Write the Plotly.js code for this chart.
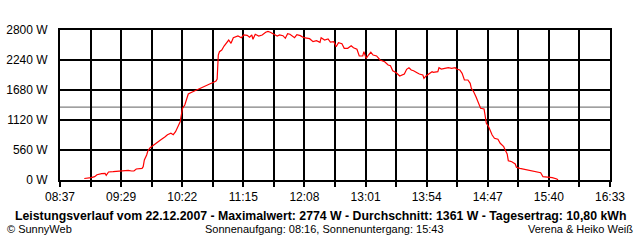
<!DOCTYPE html>
<html>
<head>
<meta charset="utf-8">
<script src="https://cdn.plot.ly/plotly-3.0.1.min.js"></script>
<style>html,body{margin:0;padding:0;background:#fff;}#chart{width:640px;height:240px;}</style>
</head>
<body>
<div id="chart"></div>
<script>
const day = '2007-12-22';
const times = ['08:58','09:03','09:04','09:07','09:09','09:13','09:16','09:17','09:19','09:23','09:29','09:33','09:36','09:39','09:41','09:43','09:48','09:49','09:50','09:52','09:53','09:55','09:58','10:01','10:04','10:08','10:10','10:13','10:15','10:17','10:20','10:21','10:22','10:23','10:25','10:27','10:28','10:31','10:34','10:37','10:41','10:44','10:47','10:50','10:52','10:53','10:54','10:55','10:57','10:59','11:01','11:03','11:05','11:07','11:11','11:14','11:16','11:19','11:21','11:23','11:24','11:26','11:29','11:32','11:35','11:37','11:39','11:42','11:45','11:47','11:50','11:52','11:54','11:56','11:58','12:00','12:02','12:05','12:08','12:11','12:13','12:16','12:19','12:22','12:23','12:26','12:29','12:31','12:34','12:36','12:38','12:41','12:43','12:46','12:49','12:51','12:54','12:56','12:59','13:00','13:02','13:04','13:06','13:08','13:11','13:14','13:16','13:18','13:21','13:23','13:25','13:28','13:31','13:33','13:35','13:37','13:39','13:41','13:43','13:46','13:48','13:51','13:52','13:54','13:57','13:59','14:00','14:04','14:05','14:07','14:10','14:13','14:16','14:19','14:20','14:23','14:25','14:26','14:27','14:30','14:32','14:33','14:35','14:37','14:39','14:41','14:44','14:45','14:46','14:48','14:51','14:53','14:56','14:58','15:01','15:02','15:04','15:05','15:08','15:11','15:12','15:15','15:19','15:22','15:27','15:31','15:33','15:35','15:40','15:43','15:47','15:48'];
const watts = [28,37,43,62,99,118,125,88,149,155,162,168,181,168,168,205,218,248,373,467,541,603,653,709,747,808,846,872,846,902,1027,1088,1213,1338,1400,1525,1605,1637,1667,1712,1742,1773,1798,1824,1848,1885,2333,2395,2427,2501,2563,2613,2552,2656,2688,2656,2707,2701,2664,2707,2626,2720,2688,2707,2757,2774,2757,2720,2688,2707,2694,2645,2731,2720,2688,2656,2712,2694,2656,2645,2638,2582,2600,2570,2656,2613,2632,2576,2582,2488,2563,2544,2458,2458,2507,2470,2440,2315,2315,2395,2272,2333,2384,2333,2315,2240,2221,2208,2147,2134,2040,2003,1941,1960,1979,2066,2096,2053,2040,2003,1979,1960,1898,1947,1992,2022,2010,2022,2096,2072,2085,2096,2085,2096,2072,2053,1992,1928,1867,1867,1805,1712,1648,1555,1462,1338,1325,1182,1058,995,840,778,760,685,622,573,485,360,342,299,237,218,200,187,155,149,136,62,50,43,19,0];
const average = 1361;
const axisStart = '08:37';
const axisEnd = '16:33';
const yMax = 2800;
const yStep = 560;
const titleLine = 'Leistungsverlauf vom 22.12.2007 - Maximalwert: 2774 W - Durchschnitt: 1361 W - Tagesertrag: 10,80 kWh';
const footLeft = '© SunnyWeb';
const footMid = 'Sonnenaufgang: 08:16, Sonnenuntergang: 15:43';
const footRight = 'Verena & Heiko Weiß';

const x = times.map(t => day + ' ' + t);
const t0 = new Date(day + 'T' + axisStart + ':00Z').getTime();
const t1 = new Date(day + 'T' + axisEnd + ':00Z').getTime();
const major = (t1 - t0) / 9;

const M = {l: 60, r: 30, t: 30, b: 60};
const plotH = 240 - M.t - M.b;
const py = p => (240 - M.b - p) / plotH;
const font = 'Liberation Sans, Arial, sans-serif';

const trace = {x: x, y: watts, type: 'scatter', mode: 'lines',
  line: {color: '#ff0000', width: 1.2}, hoverinfo: 'skip'};

const layout = {
  width: 640, height: 240, margin: M,
  paper_bgcolor: '#fff', plot_bgcolor: '#fff',
  showlegend: false,
  font: {family: font, size: 11, color: '#000'},
  xaxis: {type: 'date', range: [day + ' ' + axisStart, day + ' ' + axisEnd],
    tick0: day + ' ' + axisStart, dtick: major, tickformat: '%H:%M',
    showgrid: true, gridcolor: '#000', gridwidth: 2,
    ticks: 'outside', ticklen: 5, tickwidth: 2, tickcolor: '#000',
    showline: true, linecolor: '#000', linewidth: 2, mirror: true,
    zeroline: false, tickfont: {size: 12},
    minor: {tick0: day + ' ' + axisStart, dtick: major / 2, showgrid: true, gridcolor: '#000', gridwidth: 2,
      ticks: 'outside', ticklen: 5, tickwidth: 2, tickcolor: '#000'}},
  yaxis: {range: [0, yMax], dtick: yStep, tick0: 0, ticksuffix: ' W',
    showgrid: true, gridcolor: '#000', gridwidth: 2,
    ticks: 'outside', ticklen: 8, tickcolor: '#fff', tickwidth: 1,
    showline: true, linecolor: '#000', linewidth: 2, mirror: true,
    zeroline: false, tickfont: {size: 12}},
  shapes: [{type: 'line', xref: 'paper', x0: 0, x1: 1, yref: 'y', y0: average, y1: average,
    line: {color: '#808080', width: 1.3}, layer: 'below'}],
  annotations: [
    {text: '<b>' + titleLine + '</b>', xref: 'paper', yref: 'paper', x: (320 - M.l) / 550, y: py(216),
      xanchor: 'center', yanchor: 'middle', showarrow: false, font: {size: 12.3, family: font}},
    {text: footLeft, xref: 'paper', yref: 'paper', x: (5 - M.l) / 550, y: py(228.5),
      xanchor: 'left', yanchor: 'middle', showarrow: false, font: {size: 11, family: font}},
    {text: footMid, xref: 'paper', yref: 'paper', x: (203 - M.l) / 550, y: py(228.5),
      xanchor: 'left', yanchor: 'middle', showarrow: false, font: {size: 11, family: font}},
    {text: footRight, xref: 'paper', yref: 'paper', x: (635 - M.l) / 550, y: py(228.5),
      xanchor: 'right', yanchor: 'middle', showarrow: false, font: {size: 11, family: font}}
  ]
};

Plotly.newPlot('chart', [trace], layout, {staticPlot: true, displayModeBar: false});
</script>
</body>
</html>
